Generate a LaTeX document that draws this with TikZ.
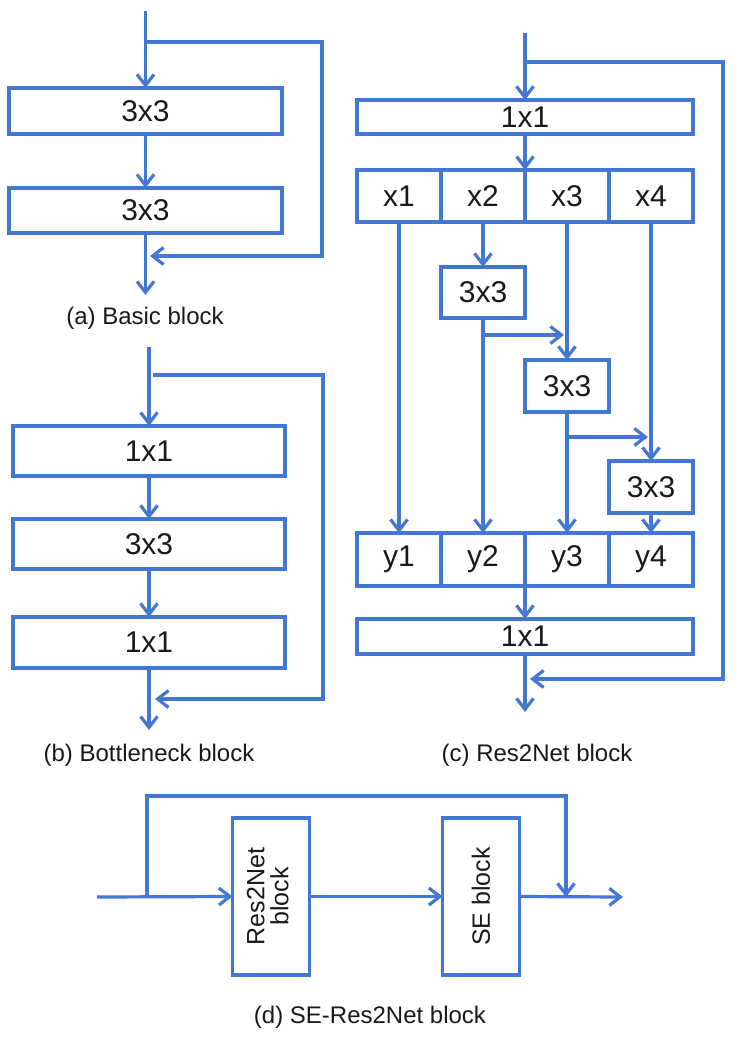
\documentclass[tikz,border=0pt]{standalone}
\usepackage{fontspec}
\setmainfont{Liberation Sans}
\usetikzlibrary{arrows.meta}
\definecolor{lb}{RGB}{68,118,212}
\definecolor{tx}{RGB}{25,25,25}
\begin{document}
\begin{tikzpicture}[x=1pt,y=-1pt,
 ln/.style={draw=lb,line width=3.2pt},
 arr/.style={ln,-{Straight Barb[length=11pt,width=17pt]}},
 blk/.style={draw=lb,line width=3.2pt,inner sep=0pt,outer sep=0pt,text=tx,font=\fontsize{30}{30}\selectfont},
 blks/.style={blk,font=\fontsize{25}{27}\selectfont},
 captxt/.style={text=tx,font=\fontsize{24}{24}\selectfont,inner sep=0pt},
 ]
\useasboundingbox (0,0) rectangle (734,1038);

% ---------- (a) Basic block ----------
\node[blk,minimum width=273pt,minimum height=46pt] (a1) at (145.5,111) {3x3};
\node[blk,minimum width=273pt,minimum height=45pt] (a2) at (145.5,210.5) {3x3};
\coordinate (ain) at (145.5,11);
\coordinate (as) at (145.5,42);
\coordinate (ar1) at (322,42);
\coordinate (ar2) at (322,256);
\coordinate (ae) at (150,256);
\coordinate (aout) at (145.5,295);
\draw[arr] (ain) -- (a1.north);
\draw[arr] (a1.south) -- (a2.north);
\draw[arr] (a2.south) -- (aout);
\draw[arr] (as) -- (ar1) -- (ar2) -- (ae);
\node[captxt] (acap) at (145,318) {(a) Basic block};

% ---------- (b) Bottleneck block ----------
\node[blk,minimum width=272pt,minimum height=50pt] (b1) at (149,451) {1x1};
\node[blk,minimum width=272pt,minimum height=50pt] (b2) at (149,544) {3x3};
\node[blk,minimum width=272pt,minimum height=51pt] (b3) at (149,642.5) {1x1};
\coordinate (bin) at (149,347);
\coordinate (bs) at (153,375);
\coordinate (br1) at (323,375);
\coordinate (br2) at (323,699);
\coordinate (be) at (155,699);
\coordinate (bout) at (149,730);
\draw[arr] (bin) -- (b1.north);
\draw[arr] (b1.south) -- (b2.north);
\draw[arr] (b2.south) -- (b3.north);
\draw[arr] (b3.south) -- (bout);
\draw[arr] (bs) -- (br1) -- (br2) -- (be);
\node[captxt] (bcap) at (149,755) {(b) Bottleneck block};

% ---------- (c) Res2Net block ----------
\node[blk,minimum width=336pt,minimum height=34pt] (c1) at (525,117) {1x1};
\node[blk,minimum width=84pt,minimum height=52pt] (x1) at (399,196) {x1};
\node[blk,minimum width=84pt,minimum height=52pt] (x2) at (483,196) {x2};
\node[blk,minimum width=84pt,minimum height=52pt] (x3) at (567,196) {x3};
\node[blk,minimum width=84pt,minimum height=52pt] (x4) at (651,196) {x4};
\node[blk,minimum width=84pt,minimum height=51pt] (k1) at (483,292.5) {3x3};
\node[blk,minimum width=84pt,minimum height=52pt] (k2) at (567,386) {3x3};
\node[blk,minimum width=84pt,minimum height=52pt] (k3) at (651,487) {3x3};
\node[blk,minimum width=84pt,minimum height=53pt] (y1) at (399,559.5) {y1};
\node[blk,minimum width=84pt,minimum height=53pt] (y2) at (483,559.5) {y2};
\node[blk,minimum width=84pt,minimum height=53pt] (y3) at (567,559.5) {y3};
\node[blk,minimum width=84pt,minimum height=53pt] (y4) at (651,559.5) {y4};
\node[blk,minimum width=336pt,minimum height=35pt] (c2) at (525,636.5) {1x1};
\coordinate (cin) at (525,33);
\coordinate (cs) at (525,62);
\coordinate (cr1) at (723,62);
\coordinate (cr2) at (723,679);
\coordinate (ce) at (530,679);
\coordinate (cout) at (525,712);
\coordinate (j1) at (483,335);
\coordinate (j1e) at (564,335);
\coordinate (j2) at (567,437);
\coordinate (j2e) at (648,437);
\draw[arr] (cin) -- (c1.north);
\draw[arr] (c1.south) -- (x2.north east);
\draw[arr] (x1.south) -- (y1.north);
\draw[arr] (x2.south) -- (k1.north);
\draw[arr] (k1.south) -- (y2.north);
\draw[arr] (j1) -- (j1e);
\draw[arr] (x3.south) -- (k2.north);
\draw[arr] (k2.south) -- (y3.north);
\draw[arr] (j2) -- (j2e);
\draw[arr] (x4.south) -- (k3.north);
\draw[arr] (k3.south) -- (y4.north);
\draw[arr] (y2.south east) -- (c2.north);
\draw[arr] (c2.south) -- (cout);
\draw[arr] (cs) -- (cr1) -- (cr2) -- (ce);
\node[captxt] (ccap) at (537,755) {(c) Res2Net block};

% ---------- (d) SE-Res2Net block ----------
\node[blks,minimum width=77pt,minimum height=157pt] (r) at (271,896.5)
  {\rotatebox{90}{\begin{tabular}{@{}c@{}}Res2Net\\[-3pt]block\end{tabular}}};
\node[blks,minimum width=77pt,minimum height=157pt] (se) at (481,896.5)
  {\rotatebox{90}{SE block}};
\coordinate (din) at (97,897);
\coordinate (ds) at (147,897);
\coordinate (dr1) at (147,796);
\coordinate (dr2) at (566,796);
\coordinate (de) at (566,897);
\coordinate (dout) at (623,897);
\draw[arr] (din) -- (r.west);
\draw[arr] (r.east) -- (se.west);
\draw[arr] (se.east) -- (dout);
\draw[arr] (ds) -- (dr1) -- (dr2) -- (de);
\node[captxt] (dcap) at (370,1017) {(d) SE-Res2Net block};
\end{tikzpicture}
\end{document}
